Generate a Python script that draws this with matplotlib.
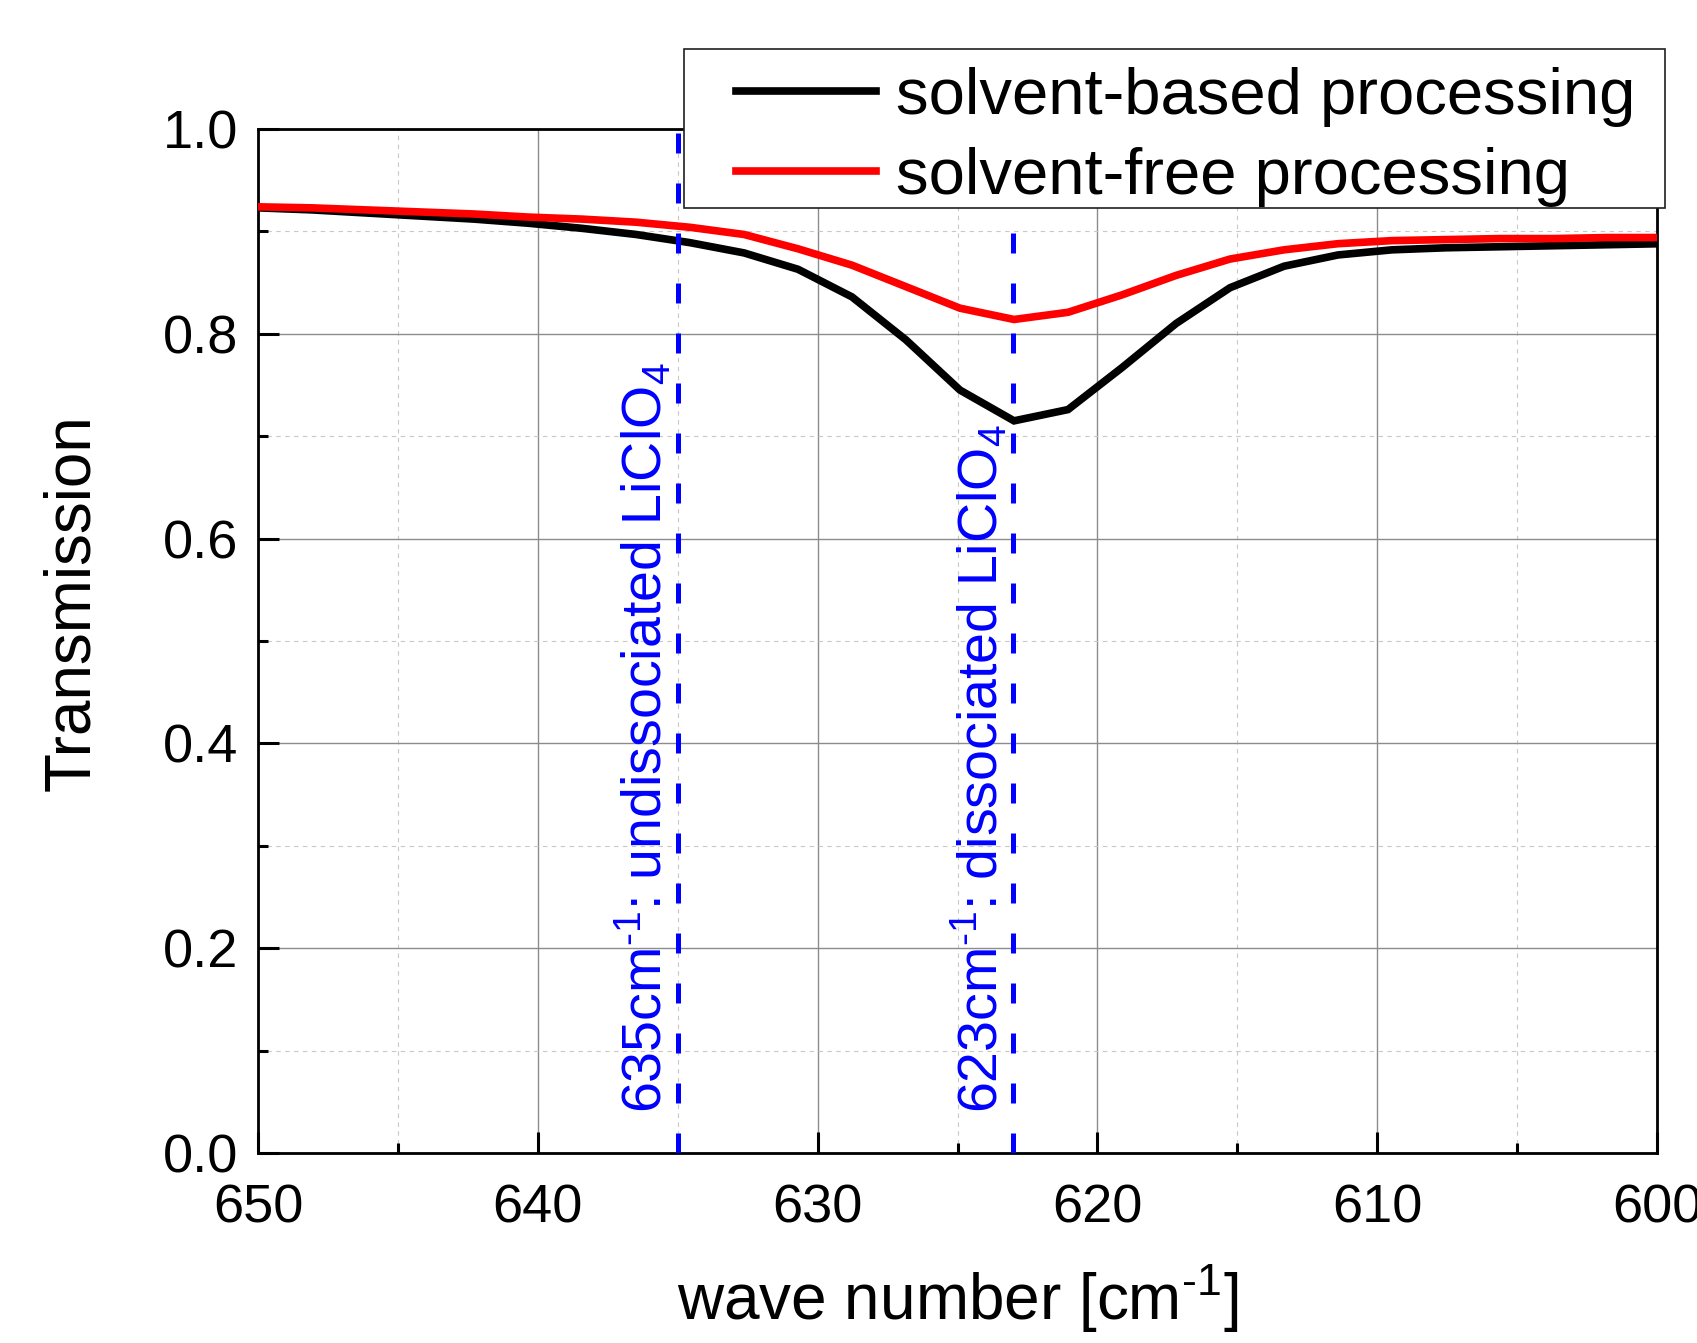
import matplotlib

matplotlib.use("Agg")
import matplotlib.pyplot as plt
from matplotlib.patches import Rectangle
from matplotlib.ticker import MultipleLocator, FormatStrFormatter

plt.rcParams["font.family"] = ["Liberation Sans", "DejaVu Sans"]
plt.rcParams["mathtext.fontset"] = "custom"
plt.rcParams["mathtext.rm"] = "Liberation Sans"
plt.rcParams["mathtext.it"] = "Liberation Sans:italic"

# wave numbers [cm-1], sampled every ~1.93 cm-1
wavenumber = [650.00, 648.07, 646.14, 644.21, 642.28, 640.35, 638.42, 636.49,
              634.56, 632.63, 630.70, 628.77, 626.84, 624.91, 622.98, 621.05,
              619.12, 617.19, 615.26, 613.33, 611.40, 609.47, 607.54, 605.61,
              603.68, 601.75, 599.82]
solvent_based = [0.923, 0.921, 0.918, 0.915, 0.912, 0.908, 0.903, 0.897,
                 0.889, 0.879, 0.863, 0.836, 0.794, 0.745, 0.715, 0.726,
                 0.767, 0.810, 0.845, 0.866, 0.877, 0.882, 0.884, 0.885,
                 0.886, 0.887, 0.888]
solvent_free = [0.924, 0.923, 0.921, 0.919, 0.917, 0.914, 0.912, 0.909,
                0.904, 0.897, 0.883, 0.867, 0.846, 0.825, 0.814, 0.821,
                0.838, 0.857, 0.873, 0.882, 0.888, 0.891, 0.892, 0.893,
                0.893, 0.894, 0.894]
series_labels = ["solvent-based processing", "solvent-free processing"]
marker_lines = [635.0, 623.0]
marker_texts = [r"635cm$^{\text{-1}}$: undissociated LiClO$_4$",
                r"623cm$^{\text{-1}}$: dissociated LiClO$_4$"]

W, H = 1697, 1343
fig = plt.figure(figsize=(W / 100, H / 100), dpi=100)
ax = fig.add_axes([258 / W, 1 - 1153 / H, 1399 / W, 1024 / H])

ax.plot(wavenumber, solvent_based, color="black", lw=5.5, label=series_labels[0],
        solid_joinstyle="miter", zorder=4)
ax.plot(wavenumber, solvent_free, color="#ff0000", lw=5.5, label=series_labels[1],
        solid_joinstyle="miter", zorder=4)

for xv in marker_lines:
    ax.axvline(xv, color="#0000ff", lw=3.6, dashes=(4, 6), zorder=5)

for xv, txt in zip(marker_lines, marker_texts):
    ax.text(xv + 0.55, 0.039, txt, rotation=90, rotation_mode="anchor",
            ha="left", va="baseline", color="#0000ff", fontsize=40, zorder=6)

ax.set_xlim(650, 600)
ax.set_ylim(0, 1.0)
ax.xaxis.set_major_locator(MultipleLocator(10))
ax.xaxis.set_minor_locator(MultipleLocator(5))
ax.yaxis.set_major_locator(MultipleLocator(0.2))
ax.yaxis.set_minor_locator(MultipleLocator(0.1))
ax.yaxis.set_major_formatter(FormatStrFormatter("%.1f"))

ax.grid(which="major", color="#8c8c8c", lw=1.0, zorder=0)
ax.grid(which="minor", color="#c8c8c8", lw=0.8, ls=(0, (4, 4)), zorder=0)
ax.set_axisbelow(True)

ax.tick_params(which="both", direction="in", width=2.2, top=False, right=False,
               labelsize=39)
ax.tick_params(which="major", length=15)
ax.tick_params(which="minor", length=7.5)
ax.tick_params(axis="x", which="major", pad=22)
ax.tick_params(axis="y", which="major", pad=14)
for sp in ax.spines.values():
    sp.set_linewidth(2.0)

ax.set_xlabel(r"wave number [cm$^{\text{-1}}$]", fontsize=46)
ax.xaxis.set_label_coords(0.5, -(1299 - 1153) / 1024)
ax.xaxis.label.set_va("center")
ax.set_ylabel("Transmission", fontsize=46)
ax.yaxis.set_label_coords((72 - 258) / 1399, (1153 - 603) / 1024)
ax.yaxis.label.set_va("center")

fig.patches.append(Rectangle((684 / W, 1 - 208 / H), 981 / W, 159 / H,
                             transform=fig.transFigure, facecolor="white",
                             edgecolor="#202020", lw=1.2, zorder=10))
leg = fig.legend(loc="upper left", bbox_to_anchor=(736 / W, 1 - 67 / H),
                 frameon=False, fontsize=47, handlelength=2.15,
                 handletextpad=0.3, labelspacing=0.3, borderpad=0,
                 borderaxespad=0)
leg.set_zorder(11)

fig.savefig("out.png", dpi=100)
